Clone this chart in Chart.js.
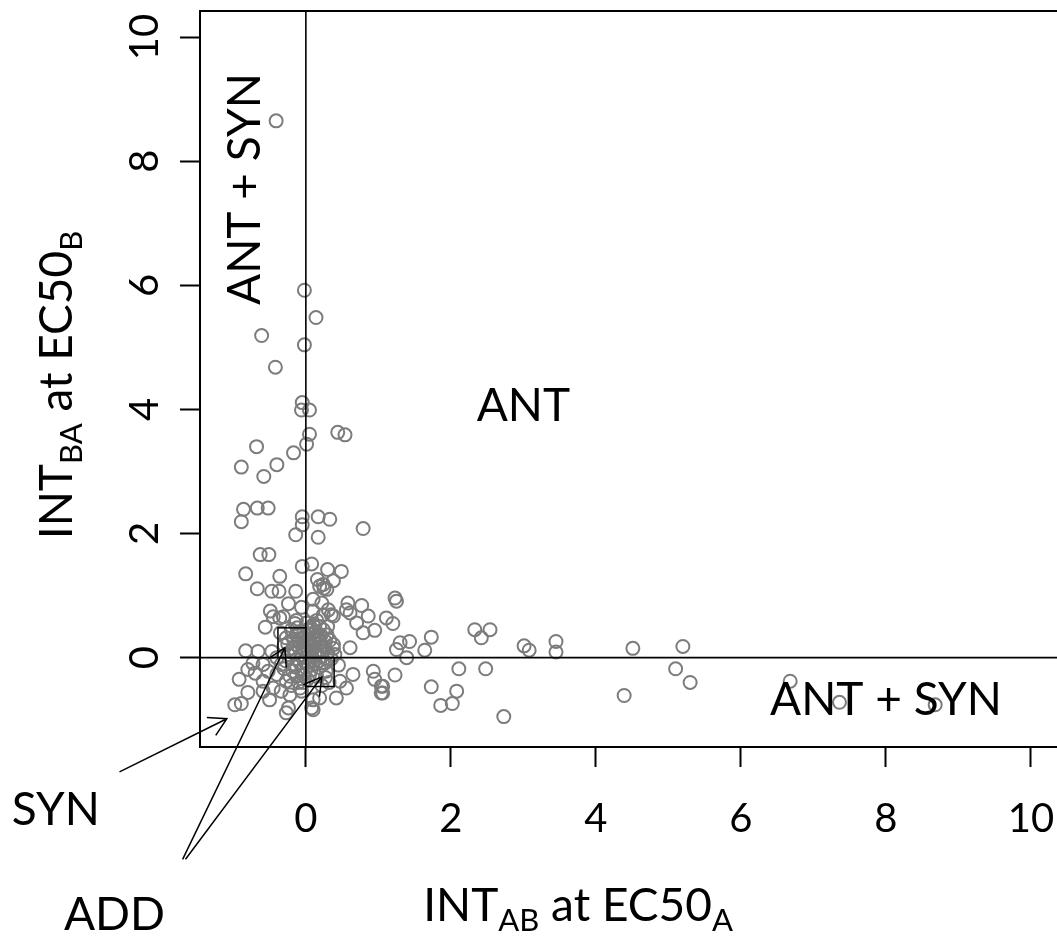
<!DOCTYPE html>
<html>
<head>
<meta charset="utf-8">
<script src="https://cdn.jsdelivr.net/npm/chart.js@4"></script>
<style>
  html, body { margin: 0; padding: 0; background: #fff; }
  canvas { display: block; }
</style>
</head>
<body>
<canvas id="intChart" width="1057" height="947"></canvas>
<script>
// interaction index of A on B (x) and B on A (y), one pair per mixture
const intAB = [
    -0.41, -0.02, 0.14, -0.61, -0.02, -0.42, -0.05, -0.06, 0.05, 0.44,
    0.54, 0.05, 0.01, -0.68, -0.17, -0.40, -0.89, -0.58, -0.86, -0.67,
    -0.52, -0.89, -0.05, 0.17, 0.33, -0.05, -0.14, 0.17, 0.79, -0.63,
    -0.51, -0.83, -0.36, -0.05, 0.08, 0.16, 0.30, 0.49, 0.25, 0.38,
    0.24, -0.67, -0.47, -0.37, -0.14, 0.29, 0.19, -0.24, -0.49, -0.45,
    -0.31, -0.56, -0.06, 0.10, 0.22, 0.31, 0.38, 0.58, 0.77, 0.61,
    0.86, 0.70, 0.79, 0.95, 1.11, 1.20, 1.23, 1.25, 0.56, 0.35,
    0.24, 0.10, 0.10, 0.19, -0.36, -0.13, 1.30, 1.43, 1.25, 1.39,
    1.64, 1.73, 0.61, 0.38, 0.19, 0.29, 0.06, 1.23, 1.06, 1.06,
    1.73, 2.11, 2.08, 1.86, 2.02, 2.33, 2.42, 2.54, 2.48, 2.73,
    3.01, 3.08, 3.45, 3.45, 4.51, 4.39, 5.20, 5.10, 5.30, 6.68,
    7.36, 8.68, 0.26, 0.47, 0.65, 0.56, 0.42, 0.93, 0.95, 1.04,
    1.04, 0.10, 0.19, -0.04, -0.06, 0.10, 0.08, -0.83, -0.92, -0.80,
    -0.98, -0.89, -0.27, -0.24, -0.66, -0.47, -0.73, -0.59, -0.80, -0.70,
    -0.52, -0.40, -0.59, -0.27, -0.13, -0.59, -0.34, -0.22, -0.50, -0.45,
    -0.08, -0.27, -0.13, -0.13, -0.04, -0.08, -0.18, -0.40, -0.34, -0.24,
    0.02, 0.08, 0.14, 0.21, -0.03, 0.05, 0.12, 0.25, -0.10, -0.18,
    -0.06, 0.03, 0.09, 0.16, 0.22, 0.30, 0.35, 0.12, 0.04, -0.12,
    -0.20, -0.15, 0.07, 0.18, 0.28, 0.02, -0.10, 0.15, -0.28, -0.30,
    0.00, 0.06, -0.02, 0.11, 0.19, -0.08, 0.01, 0.15, -0.20, -0.35,
    0.33, 0.40, 0.45, -0.22, -0.05, 0.22, 0.32, 0.12, -0.15, 0.24,
    -0.05, 0.04, 0.17, 0.27, -0.14, 0.08, 0.14, 0.23, -0.02, -0.09,
    0.00, 0.10, 0.20, -0.17, -0.25, 0.05, -0.03, 0.13, 0.27, -0.12,
    0.07, 0.30, 0.38, -0.30, -0.20
];
const intBA = [
    8.65, 5.92, 5.48, 5.19, 5.04, 4.68, 4.11, 3.99, 3.99, 3.63,
    3.59, 3.60, 3.44, 3.40, 3.30, 3.11, 3.07, 2.92, 2.39, 2.41,
    2.41, 2.19, 2.27, 2.27, 2.23, 2.14, 1.98, 1.94, 2.08, 1.66,
    1.66, 1.35, 1.31, 1.47, 1.51, 1.26, 1.42, 1.39, 1.12, 1.24,
    1.18, 1.11, 1.07, 1.07, 1.07, 1.10, 1.15, 0.87, 0.75, 0.66,
    0.66, 0.49, 0.81, 0.94, 0.88, 0.77, 0.67, 0.88, 0.84, 0.72,
    0.67, 0.56, 0.40, 0.44, 0.64, 0.55, 0.96, 0.91, 0.77, 0.69,
    0.69, 0.75, 0.53, 0.50, 0.64, 0.60, 0.24, 0.26, 0.13, 0.00,
    0.12, 0.33, 0.16, 0.21, 0.29, 0.37, 0.21, -0.28, -0.46, -0.57,
    -0.47, -0.18, -0.54, -0.77, -0.74, 0.45, 0.32, 0.45, -0.18, -0.95,
    0.19, 0.12, 0.26, 0.09, 0.15, -0.61, 0.18, -0.18, -0.40, -0.38,
    -0.72, -0.76, -0.09, -0.38, -0.27, -0.49, -0.65, -0.22, -0.35, -0.46,
    -0.57, -0.84, -0.65, -0.27, -0.54, -0.68, -0.81, 0.11, -0.35, -0.56,
    -0.76, -0.74, -0.89, -0.81, 0.10, 0.10, -0.09, -0.11, -0.19, -0.25,
    -0.22, -0.27, -0.38, -0.38, -0.30, -0.54, -0.54, -0.60, -0.68, -0.49,
    -0.49, 0.32, 0.37, 0.21, 0.13, -0.09, -0.22, 0.00, -0.11, 0.05,
    0.45, 0.38, 0.42, 0.36, 0.33, 0.27, 0.24, 0.18, 0.25, 0.15,
    0.05, 0.10, 0.12, 0.06, 0.02, 0.08, -0.02, -0.05, -0.12, -0.02,
    0.10, -0.15, -0.20, -0.16, -0.22, -0.35, -0.40, -0.30, -0.05, 0.20,
    0.00, 0.18, 0.20, 0.30, 0.12, 0.42, 0.56, 0.60, 0.45, 0.40,
    0.28, 0.05, -0.12, -0.30, -0.18, -0.45, -0.40, 0.50, 0.55, 0.45,
    0.30, 0.38, 0.33, 0.26, 0.08, 0.03, -0.10, -0.08, -0.06, 0.16,
    0.25, 0.18, 0.24, 0.30, 0.22, -0.28, -0.40, 0.08, -0.32, 0.48,
    0.48, 0.50, 0.15, -0.18, -0.45
];

const xTicks = [0, 2, 4, 6, 8, 10];
const yTicks = [0, 2, 4, 6, 8, 10];

// quadrant names, in data units
const regionLabels = [
    { text: 'ANT + SYN', x: -0.84, y: 7.55, rotate: true },
    { text: 'ANT', x: 3.0, y: 4.05 },
    { text: 'ANT + SYN', x: 8.0, y: -0.69 }
];
// the two "additive" boxes around the origin
const addBoxes = [
    { x0: -0.385, x1: 0, y0: 0, y1: 0.48 },
    { x0: 0, x1: 0.39, y0: -0.465, y1: 0 }
];
// pointer arrows: from tail to head
const arrows = [
    { x0: -2.57, y0: -1.84, x1: -1.09, y1: -0.985 },
    { x0: -1.70, y0: -3.25, x1: -0.29, y1: 0.16 },
    { x0: -1.66, y0: -3.25, x1: 0.22, y1: -0.31 }
];
const arrowLabels = [
    { text: 'SYN', x: -3.45, y: -2.45 },
    { text: 'ADD', x: -2.64, y: -4.15 }
];

const FONT = 'Lato, "Open Sans", sans-serif';

function drawRich(ctx, parts, x, y, size) {
    const subSize = Math.round(size * 0.68);
    let width = 0;
    parts.forEach(p => {
        ctx.font = (p.sub ? subSize : size) + 'px ' + FONT;
        width += ctx.measureText(p.t).width;
    });
    let cx = x - width / 2;
    ctx.textAlign = 'left';
    ctx.textBaseline = 'alphabetic';
    parts.forEach(p => {
        ctx.font = (p.sub ? subSize : size) + 'px ' + FONT;
        ctx.fillText(p.t, cx, p.sub ? y + size * 0.22 : y);
        cx += ctx.measureText(p.t).width;
    });
}

function drawArrow(ctx, x0, y0, x1, y1) {
    const ang = Math.atan2(y1 - y0, x1 - x0);
    const len = 20, spread = Math.PI / 6;
    ctx.beginPath();
    ctx.moveTo(x0, y0);
    ctx.lineTo(x1, y1);
    ctx.moveTo(x1 - len * Math.cos(ang - spread), y1 - len * Math.sin(ang - spread));
    ctx.lineTo(x1, y1);
    ctx.lineTo(x1 - len * Math.cos(ang + spread), y1 - len * Math.sin(ang + spread));
    ctx.stroke();
}

const decorations = {
    id: 'decorations',
    afterDatasetsDraw(chart) {
        const ctx = chart.ctx;
        const area = chart.chartArea;
        const xs = chart.scales.x, ys = chart.scales.y;
        ctx.save();
        ctx.strokeStyle = '#000';
        ctx.fillStyle = '#000';

        // frame (right edge falls off the canvas)
        ctx.lineWidth = 2;
        ctx.beginPath();
        ctx.moveTo(area.right + 5, area.top);
        ctx.lineTo(area.left, area.top);
        ctx.lineTo(area.left, area.bottom);
        ctx.lineTo(area.right + 5, area.bottom);
        ctx.stroke();

        // zero lines
        ctx.lineWidth = 1.6;
        const x0 = xs.getPixelForValue(0), y0 = ys.getPixelForValue(0);
        ctx.beginPath();
        ctx.moveTo(x0, area.top);
        ctx.lineTo(x0, area.bottom);
        ctx.moveTo(area.left, y0);
        ctx.lineTo(area.right, y0);
        ctx.stroke();

        ctx.lineWidth = 1.5;
        addBoxes.forEach(b => {
            const l = xs.getPixelForValue(b.x0), r = xs.getPixelForValue(b.x1);
            const t = ys.getPixelForValue(b.y1), btm = ys.getPixelForValue(b.y0);
            ctx.strokeRect(l, t, r - l, btm - t);
        });

        arrows.forEach(a => {
            drawArrow(ctx, xs.getPixelForValue(a.x0), ys.getPixelForValue(a.y0),
                xs.getPixelForValue(a.x1), ys.getPixelForValue(a.y1));
        });

        // quadrant and arrow captions
        ctx.font = '46px ' + FONT;
        ctx.textAlign = 'center';
        ctx.textBaseline = 'middle';
        regionLabels.forEach(l => {
            const px = xs.getPixelForValue(l.x), py = ys.getPixelForValue(l.y);
            if (l.rotate) {
                ctx.save();
                ctx.translate(px, py);
                ctx.rotate(-Math.PI / 2);
                ctx.fillText(l.text, 0, 0);
                ctx.restore();
            } else {
                ctx.fillText(l.text, px, py);
            }
        });
        arrowLabels.forEach(l => {
            ctx.fillText(l.text, xs.getPixelForValue(l.x), ys.getPixelForValue(l.y));
        });

        // tick labels
        ctx.font = '40px ' + FONT;
        ctx.textAlign = 'center';
        ctx.textBaseline = 'alphabetic';
        xs.ticks.forEach(t => {
            ctx.fillText(String(t.value), xs.getPixelForValue(t.value), 832);
        });
        ys.ticks.forEach(t => {
            ctx.save();
            ctx.translate(158, ys.getPixelForValue(t.value));
            ctx.rotate(-Math.PI / 2);
            ctx.fillText(String(t.value), 0, 0);
            ctx.restore();
        });

        // axis titles with subscripts
        drawRich(ctx, [{ t: 'INT' }, { t: 'AB', sub: true }, { t: ' at EC50' }, { t: 'A', sub: true }],
            578, 921, 46);
        ctx.save();
        ctx.translate(72, 385);
        ctx.rotate(-Math.PI / 2);
        drawRich(ctx, [{ t: 'INT' }, { t: 'BA', sub: true }, { t: ' at EC50' }, { t: 'B', sub: true }],
            0, 0, 46);
        ctx.restore();
        ctx.restore();
    }
};

const points = intAB.map((v, i) => ({ x: v, y: intBA[i] }));

const axisGrid = {
    drawOnChartArea: false,
    drawTicks: true,
    tickLength: 20,
    tickColor: '#000',
    tickWidth: 2
};

new Chart(document.getElementById('intChart').getContext('2d'), {
    type: 'scatter',
    data: {
        datasets: [{
            data: points,
            pointStyle: 'circle',
            pointRadius: 6.5,
            pointHoverRadius: 6.5,
            borderColor: '#7c7c7c',
            borderWidth: 2,
            backgroundColor: 'rgba(0,0,0,0)'
        }]
    },
    options: {
        responsive: false,
        animation: false,
        devicePixelRatio: 1,
        layout: { autoPadding: false, padding: { left: 180, top: 11, right: 0, bottom: 180 } },
        plugins: { legend: { display: false }, tooltip: { enabled: false } },
        scales: {
            x: {
                type: 'linear',
                min: -1.46,
                max: 10.36,
                afterBuildTicks: scale => { scale.ticks = xTicks.map(v => ({ value: v })); },
                afterFit: scale => { scale.height = 20; },
                ticks: { display: false },
                grid: axisGrid,
                border: { display: false }
            },
            y: {
                type: 'linear',
                min: -1.44,
                max: 10.42,
                afterBuildTicks: scale => { scale.ticks = yTicks.map(v => ({ value: v })); },
                afterFit: scale => { scale.width = 20; },
                ticks: { display: false },
                grid: axisGrid,
                border: { display: false }
            }
        }
    },
    plugins: [decorations]
});
</script>
</body>
</html>
